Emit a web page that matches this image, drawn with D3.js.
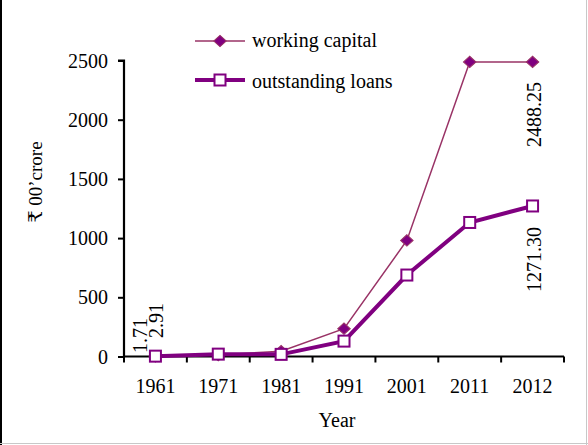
<!DOCTYPE html>
<html><head><meta charset="utf-8">
<script src="https://cdn.jsdelivr.net/npm/d3@7"></script>
<style>body{margin:0;background:#fff}svg{display:block}svg text{font-family:"Liberation Serif","DejaVu Serif",serif !important;fill:#000}</style>
</head><body><svg id="c" width="588" height="445"></svg>
<script>
const years = ["1961","1971","1981","1991","2001","2011","2012"];
const workingCapital = [1.71, 12, 45, 235, 980, 2488.25, 2488.25];
const outstandingLoans = [2.91, 20, 18, 130, 688, 1132, 1271.30];
const yTicks = [0, 500, 1000, 1500, 2000, 2500];
const seriesNames = ["working capital", "outstanding loans"];

const FS = "20px";
const svg = d3.select("#c");
const W = 588, H = 445;
svg.append("rect").attr("width", W).attr("height", H).attr("fill", "#fff");
// frame
svg.append("line").attr("x1",1).attr("x2",1).attr("y1",0).attr("y2",H).attr("stroke","#000").attr("stroke-width",2);
svg.append("line").attr("x1",W-1.5).attr("x2",W-1.5).attr("y1",0).attr("y2",H).attr("stroke","#c8c8c8").attr("stroke-width",1);
svg.append("line").attr("x1",0).attr("x2",W).attr("y1",H-1.5).attr("y2",H-1.5).attr("stroke","#c8c8c8").attr("stroke-width",1);

const x0 = 124, x1 = 564, yBase = 356.5, yTop = 60.5;
const x = d3.scaleBand().domain(years).range([x0, x1]);
const y = d3.scaleLinear().domain([0, 2500]).range([yBase, yTop]);

// Y axis
const yAx = svg.append("g").attr("transform", `translate(${x0},0)`)
  .call(d3.axisLeft(y).tickValues(yTicks).tickFormat(d3.format("d")).tickSize(6).tickPadding(10));
yAx.attr("font-family", null).attr("font-size", null);
yAx.select(".domain").attr("stroke","#000").attr("stroke-width",2.2).attr("d", `M-6,${yTop}H0V${yBase}`);
yAx.selectAll(".tick line").attr("stroke","#000").attr("stroke-width",2);
yAx.selectAll(".tick text").style("font-size",FS).attr("dy","0.33em");

// X axis with ticks at category boundaries
svg.append("line").attr("x1", x0).attr("x2", x1).attr("y1", yBase).attr("y2", yBase).attr("stroke","#000").attr("stroke-width",2.2);
const bounds = years.map(d => x(d)).concat([x1]);
svg.append("g").selectAll("line").data(bounds).join("line")
  .attr("x1", d => d).attr("x2", d => d).attr("y1", yBase).attr("y2", yBase + 6)
  .attr("stroke","#000").attr("stroke-width",2);
svg.append("g").selectAll("text").data(years).join("text")
  .attr("x", d => x(d) + x.bandwidth()/2).attr("y", 393)
  .attr("text-anchor","middle").style("font-size",FS).text(d => d);

// Axis titles
svg.append("text").attr("x", 337).attr("y", 427).attr("text-anchor","middle").style("font-size",FS).text("Year");
svg.append("text").attr("transform", "translate(42,182) rotate(-90)").attr("text-anchor","middle").style("font-size","19px").text("₹ 00’crore");

const cx = d => x(d) + x.bandwidth()/2;
const line = d3.line().x((d,i) => cx(years[i])).y(d => y(d));

// working capital
svg.append("path").datum(workingCapital).attr("d", line).attr("fill","none").attr("stroke","#993366").attr("stroke-width",1.5);
const diamond = d3.symbol().type(d3.symbolSquare).size(64);
svg.append("g").selectAll("path").data(workingCapital).join("path")
  .attr("d", diamond).attr("transform", (d,i) => `translate(${cx(years[i])},${y(d)}) scale(1.1,1) rotate(45)`)
  .attr("fill","#800080").attr("stroke","#993366").attr("stroke-width",1);

// outstanding loans
svg.append("path").datum(outstandingLoans).attr("d", line).attr("fill","none").attr("stroke","#800080").attr("stroke-width",4);
svg.append("g").selectAll("rect").data(outstandingLoans).join("rect")
  .attr("x", (d,i) => cx(years[i]) - 5.5).attr("y", d => y(d) - 5.5).attr("width", 11).attr("height", 11)
  .attr("fill","#fff").attr("stroke","#800080").attr("stroke-width",2);

// data labels (rotated)
const labels = [
  {x: cx("1961") - 15, yStart: 353, t: workingCapital[0].toFixed(2)},
  {x: cx("1961") + 1, yStart: 338, t: outstandingLoans[0].toFixed(2)},
  {x: cx("2012") + 1, yStart: 147, t: workingCapital[6].toFixed(2)},
  {x: cx("2012") + 1, yStart: 292, t: outstandingLoans[6].toFixed(2)}
];
svg.append("g").selectAll("text").data(labels).join("text")
  .attr("transform", d => `translate(${d.x + 7},${d.yStart}) rotate(-90)`)
  .style("font-size",FS).text(d => d.t);

// legend
const leg = svg.append("g");
const legY = [41, 80];
leg.append("line").attr("x1",195).attr("x2",245).attr("y1",legY[0]).attr("y2",legY[0]).attr("stroke","#993366").attr("stroke-width",1.5);
leg.append("path").attr("d", diamond).attr("transform", `translate(220,${legY[0]}) scale(1.1,1) rotate(45)`).attr("fill","#800080").attr("stroke","#993366");
leg.append("line").attr("x1",195).attr("x2",245).attr("y1",legY[1]).attr("y2",legY[1]).attr("stroke","#800080").attr("stroke-width",4);
leg.append("rect").attr("x",214.5).attr("y",legY[1]-5.5).attr("width",11).attr("height",11).attr("fill","#fff").attr("stroke","#800080").attr("stroke-width",2);
leg.selectAll("text").data(seriesNames).join("text")
  .attr("x", 252).attr("y", (d,i) => legY[i] + 6 + i*2).style("font-size",FS).text(d => d);
</script></body></html>
